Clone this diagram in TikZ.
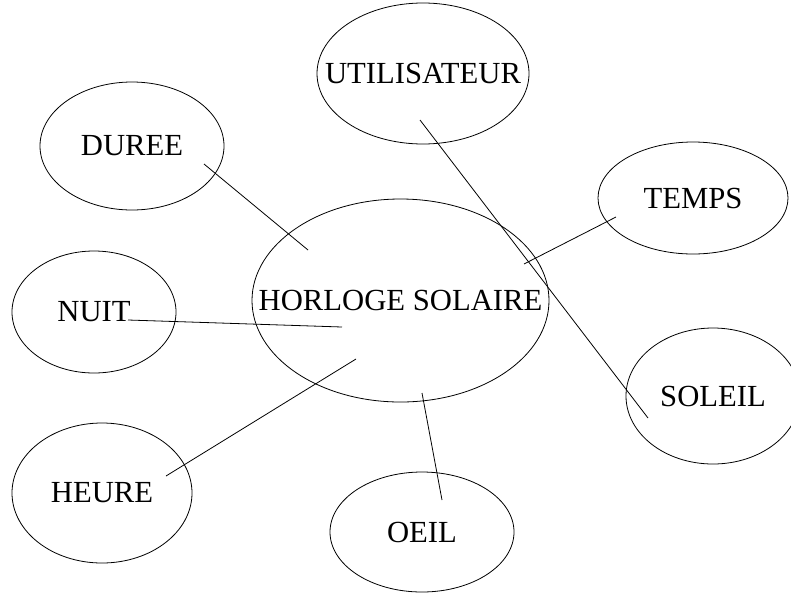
\documentclass[tikz,border=0pt]{standalone}
\usepackage{fontspec}
\setmainfont{Liberation Serif}
\usetikzlibrary{shapes.geometric}
\begin{document}
\begin{tikzpicture}[x=0.75pt, y=-0.75pt, line width=0.6pt,
        bubble/.style={ellipse, draw=black, inner sep=0pt, font=\fontsize{23}{27}\selectfont}]
        \useasboundingbox (0,0) rectangle (791,593);
        \node[bubble, minimum width=222.75pt, minimum height=152.25pt] (horloge) at (400.5, 300.5) {\makebox[0pt]{HORLOGE SOLAIRE}};
        \node[bubble, minimum width=159pt, minimum height=105.75pt] (util) at (423, 73.5) {\makebox[0pt]{UTILISATEUR}};
        \node[bubble, minimum width=138pt, minimum height=96pt] (duree) at (132, 146) {\makebox[0pt]{DUREE}};
        \node[bubble, minimum width=123pt, minimum height=91.5pt] (nuit) at (94, 312) {\makebox[0pt]{NUIT}};
        \node[bubble, minimum width=135pt, minimum height=105pt] (heure) at (102, 493) {\makebox[0pt]{HEURE}};
        \node[bubble, minimum width=138pt, minimum height=90pt] (oeil) at (422, 532) {\makebox[0pt]{OEIL}};
        \node[bubble, minimum width=142.5pt, minimum height=84pt] (temps) at (693, 198) {\makebox[0pt]{TEMPS}};
        \node[bubble, minimum width=130.5pt, minimum height=102pt] (soleil) at (713, 396) {\makebox[0pt]{SOLEIL}};
        \draw ([shift={(72,18)}]duree.center) -- ([shift={(-92.5,-50.5)}]horloge.center);
        \draw ([shift={(34,8)}]nuit.center) -- ([shift={(-58.5,26.5)}]horloge.center);
        \draw ([shift={(64,-17)}]heure.center) -- ([shift={(-44.5,58.5)}]horloge.center);
        \draw ([shift={(20,-32)}]oeil.center) -- ([shift={(21.5,92.5)}]horloge.center);
        \draw ([shift={(-77,19)}]temps.center) -- ([shift={(123.5,-36.5)}]horloge.center);
        \draw ([shift={(-3,46.5)}]util.center) -- ([shift={(-65,22)}]soleil.center);
    \end{tikzpicture}
\end{document}
